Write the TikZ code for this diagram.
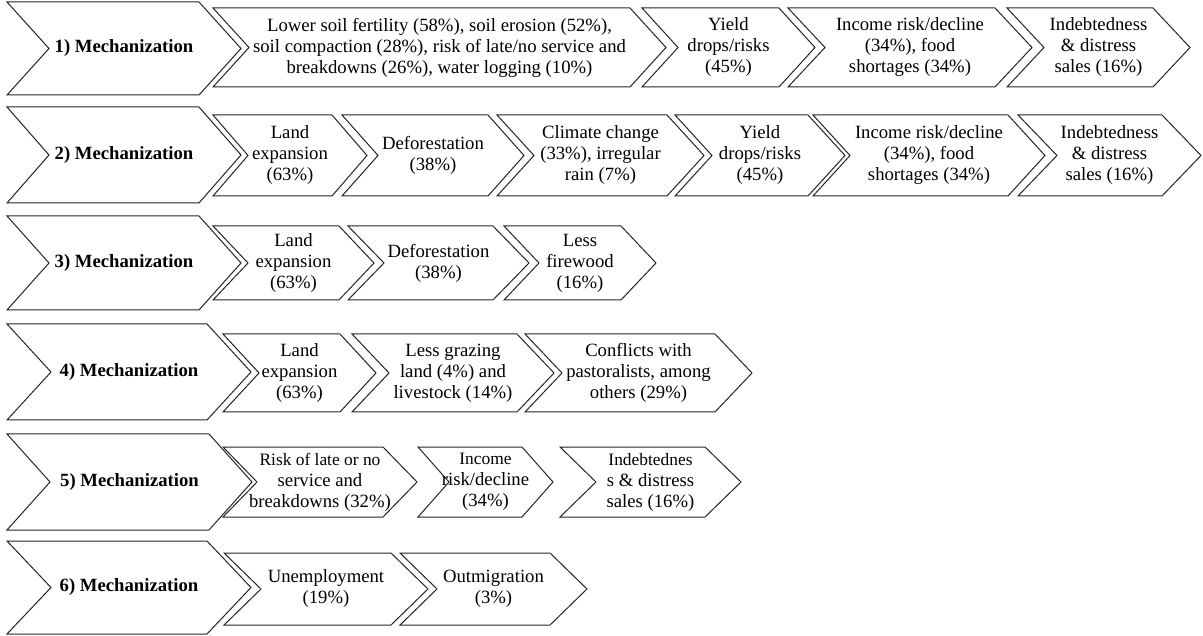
\documentclass[tikz,border=0pt]{standalone}
\usepackage{fontspec}
\setmainfont{Liberation Serif}
\usepackage{tikz}

% name, x left, x right, y top, y bottom, point depth, text
\newcommand{\chevbox}[7]{%
  \draw[chevline] (#2,#4) -- (#3,#4) -- ({#3+#6},{(#4+#5)/2}) -- (#3,#5)
    -- (#2,#5) -- ({#2+#6},{(#4+#5)/2}) -- cycle;
  \node[chevtext] (#1) at ({(#2+#6+#3)/2},{(#4+#5)/2}) {#7};
}
\newcommand{\smalltxt}{\fontsize{17.4}{20.5}\selectfont}

\begin{document}
\begin{tikzpicture}[
    x=1pt, y=-1pt,
    chevline/.style={draw=black!85, line width=1pt, fill=white, line join=miter},
    chevtext/.style={align=center, inner sep=0pt, font=\fontsize{18.7}{21}\selectfont}
]
\useasboundingbox (0,0) rectangle (1203,636);

% row 1
\chevbox{mech1}{7}{199}{2}{95}{42}{\textbf{1) Mechanization}}
\chevbox{soil1}{213}{630}{8}{87}{36}{Lower soil fertility (58\%), soil erosion (52\%),\\ soil compaction (28\%), risk of late/no service and\\ breakdowns (26\%), water logging (10\%)}
\chevbox{yield1}{642}{779}{8}{87}{36}{Yield\\ drops/risks\\ (45\%)}
\chevbox{income1}{788}{995}{8}{87}{37}{Income risk/decline\\ (34\%), food\\ shortages (34\%)}
\chevbox{debt1}{1007}{1153}{8}{87}{37}{Indebtedness\\ \& distress\\ sales (16\%)}

% row 2
\chevbox{mech2}{7}{199}{107}{203}{42}{\textbf{2) Mechanization}}
\chevbox{land2}{213}{332}{115}{196}{35}{Land\\ expansion\\ (63\%)}
\chevbox{forest2}{342}{488}{115}{196}{36}{Deforestation\\ (38\%)}
\chevbox{climate2}{497}{667}{115}{196}{37}{Climate change\\ (33\%), irregular\\ rain (7\%)}
\chevbox{yield2}{675}{808}{115}{196}{37}{Yield\\ drops/risks\\ (45\%)}
\chevbox{income2}{813}{1008}{115}{196}{37}{Income risk/decline\\ (34\%), food\\ shortages (34\%)}
\chevbox{debt2}{1018}{1162}{115}{196}{39}{Indebtedness\\ \& distress\\ sales (16\%)}

% row 3
\chevbox{mech3}{7}{199}{216}{310}{42}{\textbf{3) Mechanization}}
\chevbox{land3}{213}{339}{226}{300}{35}{Land\\ expansion\\ (63\%)}
\chevbox{forest3}{348}{493}{226}{300}{36}{Deforestation\\ (38\%)}
\chevbox{wood3}{504}{621}{226}{300}{35}{Less\\ firewood\\ (16\%)}

% row 4
\chevbox{mech4}{7}{207}{324}{420}{44}{\textbf{4) Mechanization}}
\chevbox{land4}{223}{340}{334}{412}{36}{Land\\ expansion\\ (63\%)}
\chevbox{graze4}{352}{517}{334}{412}{37}{Less grazing\\ land (4\%) and\\ livestock (14\%)}
\chevbox{conflict4}{525}{715}{334}{412}{37}{Conflicts with\\ pastoralists, among\\ others (29\%)}

% row 5, set a little smaller
\chevbox{mech5}{7}{209}{434}{530}{43}{\textbf{5) Mechanization}}
\chevbox{risk5}{223}{383}{447}{517}{34}{\smalltxt Risk of late or no\\ service and\\ breakdowns (32\%)}
\chevbox{income5}{418}{522}{447}{517}{31}{\smalltxt Income\\ risk/decline\\ (34\%)}
\chevbox{debt5}{560}{705}{447}{517}{36}{\smalltxt Indebtednes\\ s \& distress\\ sales (16\%)}

% row 6
\chevbox{mech6}{7}{207}{541}{634}{44}{\textbf{6) Mechanization}}
\chevbox{unemp6}{224}{391}{553}{625}{37}{Unemployment\\ (19\%)}
\chevbox{migr6}{400}{550}{553}{625}{37}{Outmigration\\ (3\%)}

\end{tikzpicture}
\end{document}
